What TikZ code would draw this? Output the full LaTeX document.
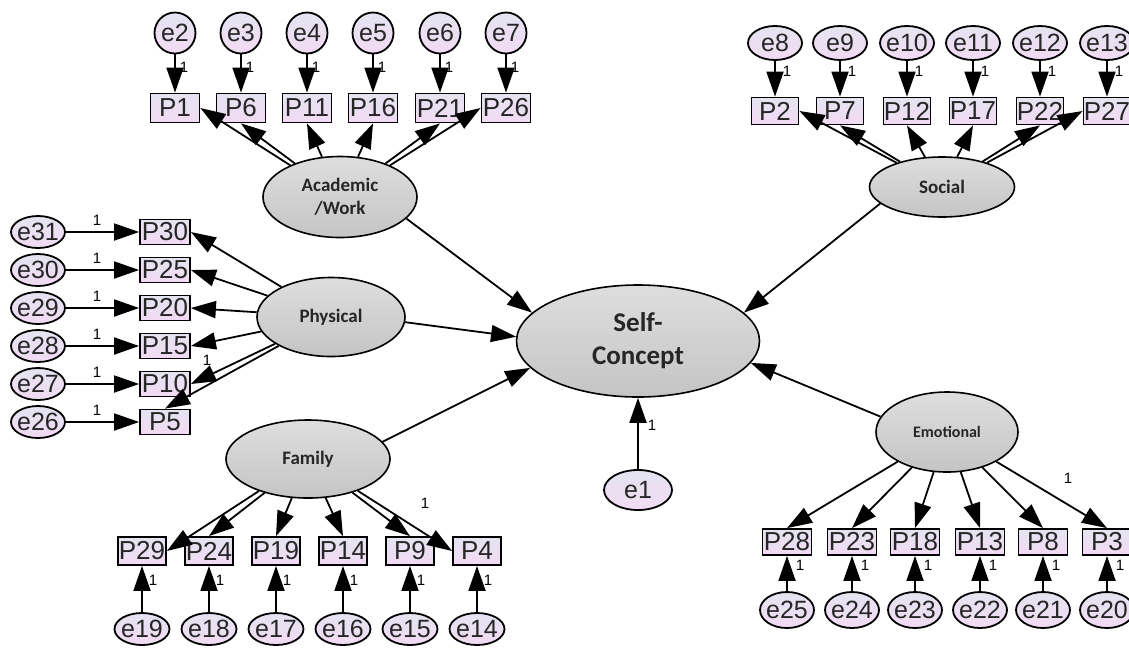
\documentclass[tikz,border=0pt]{standalone}
\usepackage{fontspec}
\setmainfont{Liberation Sans}
\newfontfamily\calib{Carlito}
\usetikzlibrary{arrows.meta,shapes.geometric}
\definecolor{ltop}{RGB}{228,228,240}
\definecolor{lbot}{RGB}{242,218,244}
\begin{document}
\begin{tikzpicture}[x=1pt,y=-1pt,
  lat/.style={ellipse, draw=black, line width=1.6pt, top color=gray!26, bottom color=gray!46, inner sep=0pt, align=center, text=black!85},
  obs/.style={rectangle, draw=black, line width=1.8pt, top color=ltop, bottom color=lbot, inner sep=0pt, minimum width=49pt, minimum height=28pt, font=\fontsize{26}{26}\selectfont, text=black!85},
  err/.style={ellipse, draw=black, line width=1.8pt, top color=ltop, bottom color=lbot, inner sep=-6pt, minimum width=54pt, minimum height=33pt, font=\fontsize{25}{25}\selectfont, text=black!85},
  arr/.style={-{Triangle[length=25pt,width=17pt]}, line width=1.8pt},
  one/.style={font=\fontsize{15}{15}\selectfont, inner sep=0pt}
]
\useasboundingbox (0,0) rectangle (1129,649);
\fill[white] (0,0) rectangle (1129,649);

% latent variables
\node[lat, minimum width=154pt, minimum height=81pt, font=\calib\bfseries\fontsize{19}{23}\selectfont] (acad) at (340,197) {Academic\\/Work};
\node[lat, minimum width=148pt, minimum height=79pt, font=\calib\bfseries\fontsize{19}{23}\selectfont] (phys) at (331,317) {Physical};
\node[lat, minimum width=164pt, minimum height=78pt, font=\calib\bfseries\fontsize{19}{23}\selectfont] (fam) at (308,459) {Family};
\node[lat, minimum width=145pt, minimum height=60pt, font=\calib\bfseries\fontsize{19}{23}\selectfont] (soc) at (942,187) {Social};
\node[lat, minimum width=142pt, minimum height=80pt, font=\calib\bfseries\fontsize{16}{20}\selectfont] (emo) at (947,432) {Emotional};
\node[lat, minimum width=243pt, minimum height=112pt, font=\calib\bfseries\fontsize{27}{33}\selectfont] (self) at (638,341) {Self-\\Concept};
\node[err, minimum width=68pt, minimum height=40pt] (e1) at (638,490) {e1};

% Academic/Work indicators
\foreach \n/\x/\e in {1/175/2, 6/241/3, 11/307/4, 16/373/5, 21/440/6, 26/506/7} {
  \node[obs, minimum height=29pt] (P\n) at (\x,108) {P\n};
  \node[err, minimum width=41pt, minimum height=41pt] (e\e) at (\x,33) {e\e};
  \draw[arr] (e\e) -- (P\n);
  \node[one] at (\x+9,67) {1};
}
% Social indicators
\foreach \n/\x/\e in {2/775/8, 7/840/9, 12/907/10, 17/973/11, 22/1040/12, 27/1107/13} {
  \node[obs, minimum width=47pt, minimum height=27pt] (P\n) at (\x,111) {P\n};
  \node[err, minimum height=34pt] (e\e) at (\x,43) {e\e};
  \draw[arr] (e\e) -- (P\n);
  \node[one] at (\x+12,71) {1};
}
% Physical indicators
\foreach \n/\y/\e in {30/232/31, 25/270/30, 20/308/29, 15/346/28, 10/384/27, 5/422/26} {
  \node[obs, minimum width=50pt, minimum height=25pt] (P\n) at (165,\y) {P\n};
  \node[err, minimum height=32pt] (e\e) at (38,\y) {e\e};
  \draw[arr] (e\e) -- (P\n);
  \node[one] at (97,\y-12) {1};
}
% Family indicators
\foreach \n/\x/\e in {29/142/19, 24/209/18, 19/276/17, 14/343/16, 9/410/15, 4/477/14} {
  \node[obs, minimum width=48pt, minimum height=28pt] (P\n) at (\x,551) {P\n};
  \node[err, minimum width=55pt, minimum height=32pt] (e\e) at (\x,629) {e\e};
  \draw[arr] (e\e) -- (P\n);
  \node[one] at (\x+11,580) {1};
}
% Emotional indicators
\foreach \n/\x/\e in {28/787/25, 23/852/24, 18/915/23, 13/980/22, 8/1043/21, 3/1107/20} {
  \node[obs, minimum width=49pt, minimum height=26pt] (P\n) at (\x,542) {P\n};
  \node[err, minimum height=36pt] (e\e) at (\x,610) {e\e};
  \draw[arr] (e\e) -- (P\n);
  \node[one] at (\x+13,565) {1};
}

% loadings
\draw[arr] (acad) -- (P1.east);
\draw[arr] (acad) -- (P6.south);
\draw[arr] (acad) -- (P11.south);
\draw[arr] (acad) -- (P16.south);
\draw[arr] (acad) -- (P21.south);
\draw[arr] (acad) -- (P26.west);

\draw[arr] (soc) -- (P2.east);
\draw[arr] (soc) -- (P7.south);
\draw[arr] (soc) -- (P12.south);
\draw[arr] (soc) -- (P17.south);
\draw[arr] (soc) -- (P22.south);
\draw[arr] (soc) -- (P27.west);

\draw[arr] (phys) -- (P30.east);
\draw[arr] (phys) -- (P25.east);
\draw[arr] (phys) -- (P20.east);
\draw[arr] (phys) -- (P15.east);
\draw[arr] (phys) -- (P10.east);
\draw[arr] (phys) -- (P5.north);
\node[one] at (207,360) {1};

\draw[arr] (fam) -- (P29.east);
\draw[arr] (fam) -- (P24.north);
\draw[arr] (fam) -- (P19.north);
\draw[arr] (fam) -- (P14.north);
\draw[arr] (fam) -- (P9.north);
\draw[arr] (fam) -- (P4.west);
\node[one] at (425,503) {1};

\draw[arr] (emo) -- (P28.north);
\draw[arr] (emo) -- (P23.north);
\draw[arr] (emo) -- (P18.north);
\draw[arr] (emo) -- (P13.north);
\draw[arr] (emo) -- (P8.north);
\draw[arr] (emo) -- (P3.north);
\node[one] at (1068,478) {1};

% structural paths
\draw[arr] (acad.-18) -- (self.165);
\draw[arr] (phys.-4) -- (self.178);
\draw[arr] (fam.13) -- (self.194);
\draw[arr] (soc.195) -- (self.15);
\draw[arr] (emo.167) -- (self.349);
\draw[arr] (e1) -- (self);
\node[one] at (652,425) {1};
\end{tikzpicture}
\end{document}
